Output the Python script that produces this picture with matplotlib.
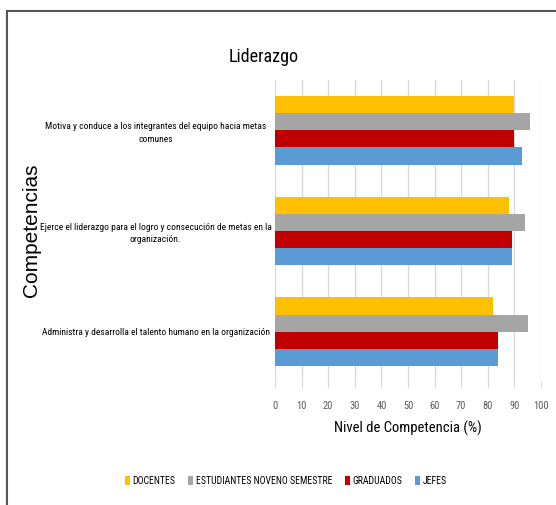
import matplotlib
matplotlib.use("Agg")
import matplotlib.pyplot as plt
from matplotlib.lines import Line2D
import numpy as np

CATEGORIES = [
    "Administra y desarrolla el talento humano en la organización",
    "Ejerce el liderazgo para el logro y consecución de metas en la\norganización.",
    "Motiva y conduce a los integrantes del equipo hacia metas\ncomunes",
]
SERIES = ["DOCENTES", "ESTUDIANTES NOVENO SEMESTRE", "GRADUADOS", "JEFES"]
DOCENTES = [82, 88, 90]
ESTUDIANTES = [95, 94, 96]
GRADUADOS = [84, 89, 90]
JEFES = [84, 89, 93]
COLORS = ["#FFC000", "#A5A5A5", "#C00000", "#5B9BD5"]

NARROW = ["Roboto Condensed", "DejaVu Sans"]
SANS = ["Liberation Sans", "DejaVu Sans"]


def main():
    fig = plt.figure(figsize=(5.56, 5.05), dpi=100)
    ax = fig.add_axes([275 / 556, 1 - 382 / 505, 266 / 556, 302 / 505])

    y = np.arange(len(CATEGORIES))
    h = 0.17
    values = [DOCENTES, ESTUDIANTES, GRADUADOS, JEFES]
    # top bar in each group is DOCENTES, bottom is JEFES
    offsets = [1.5 * h, 0.5 * h, -0.5 * h, -1.5 * h]
    for vals, off, color, name in zip(values, offsets, COLORS, SERIES):
        ax.barh(y + off, vals, height=h, color=color, label=name, zorder=2)

    ax.set_xlim(0, 100)
    ax.set_ylim(-0.5, 2.5)
    ax.set_xticks(np.arange(0, 101, 10))
    ax.set_yticks(y)
    ax.set_yticklabels(CATEGORIES, family=NARROW, fontsize=6.8, ha="center",
                       multialignment="center", linespacing=1.5)
    ax.tick_params(axis="y", length=0, pad=86)
    ax.tick_params(axis="x", length=4, color="#d9d9d9", pad=10, labelsize=7.5,
                   labelcolor="#595959")
    for lbl in ax.get_xticklabels():
        lbl.set_family(NARROW)
    ax.grid(axis="x", color="#d9d9d9", linewidth=1, zorder=0)
    for s in ax.spines.values():
        s.set_visible(False)

    ax.set_xlabel("Nivel de Competencia (%)", family=NARROW, fontsize=10.5,
                  labelpad=7)
    fig.text(32 / 556, 1 - 230 / 505, "Competencias", rotation=90,
             family=SANS, fontsize=15, ha="center", va="center")
    fig.text(264 / 556, 1 - 57 / 505, "Liderazgo", family=NARROW, fontsize=13,
             ha="center", va="center")

    fig.legend(loc="center", bbox_to_anchor=(286 / 556, 1 - 481 / 505),
               ncol=4, frameon=False, handlelength=0.5, handleheight=1.0,
               handletextpad=0.3, columnspacing=1.3,
               prop={"family": NARROW, "size": 7})

    # outer frame (top and left edges visible)
    fig.add_artist(Line2D([7 / 556, 7 / 556], [0, 1 - 11 / 505],
                          transform=fig.transFigure, color="#555555", lw=1.5))
    fig.add_artist(Line2D([7 / 556, 1], [1 - 11 / 505, 1 - 11 / 505],
                          transform=fig.transFigure, color="#555555", lw=1.5))

    fig.savefig("out.png", dpi=100)


if __name__ == "__main__":
    main()
